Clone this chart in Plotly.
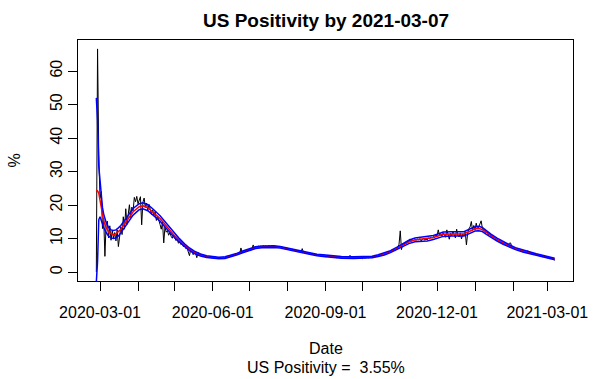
import pandas as pd
import plotly.graph_objects as go

# ---- data ----
start_date = "2020-02-27"
end_date = "2021-03-07"

daily_positivity = [
    0.0, 66.6, 35.0, 22.0, 24.0, 13.0, 16.0, 4.7, 14.5, 15.2,
    10.2, 13.8, 9.5, 12.4, 10.1, 11.8, 9.3, 12.6, 7.6, 10.4,
    13.5, 11.2, 16.5, 12.8, 18.9, 14.2, 17.8, 20.1, 16.3, 19.4,
    18.2, 22.3, 21.0, 22.6, 20.4, 21.7, 22.5, 14.1, 20.8, 22.1,
    19.3, 20.6, 18.4, 20.2, 19.0, 17.2, 18.6, 16.9, 18.1, 15.4,
    16.7, 15.0, 14.2, 12.8, 14.9, 8.7, 13.5, 11.9, 12.4, 11.0,
    11.8, 10.7, 10.1, 11.2, 9.9, 9.4, 9.8, 8.6, 9.1, 8.2,
    8.5, 7.6, 7.9, 7.0, 7.2, 6.1, 4.9, 6.8, 6.5, 5.2,
    6.1, 5.6, 4.3, 5.9, 5.1, 5.3, 4.8, 5.0, 4.6, 4.9,
    4.5, 4.7, 4.3, 4.6, 4.2, 4.4, 4.1, 4.5, 4.2, 4.3,
    4.0, 4.4, 4.1, 4.3, 4.5, 4.2, 4.6, 4.4, 4.7, 4.6,
    4.9, 4.7, 5.1, 5.0, 5.4, 5.2, 5.6, 5.5, 7.2, 5.8,
    6.0, 6.4, 6.2, 6.7, 6.5, 6.9, 6.8, 7.0, 8.1, 7.1,
    7.4, 7.2, 7.8, 7.5, 7.7, 7.4, 7.9, 7.6, 7.8, 7.5,
    7.7, 7.9, 7.5, 7.8, 7.6, 7.4, 7.7, 7.5, 7.6, 7.3,
    7.5, 7.2, 7.4, 7.1, 7.3, 6.9, 7.1, 6.8, 7.0, 6.6,
    6.8, 6.5, 6.6, 6.3, 6.4, 6.1, 6.3, 6.0, 7.0, 5.9,
    5.9, 5.7, 5.8, 5.5, 5.6, 5.3, 5.5, 5.2, 5.4, 5.1,
    5.2, 5.0, 5.1, 4.8, 5.0, 4.7, 4.9, 4.6, 4.8, 4.7,
    4.6, 4.8, 4.5, 4.7, 4.4, 4.6, 4.3, 4.5, 4.4, 4.3,
    4.5, 4.2, 4.4, 4.3, 4.5, 4.2, 4.4, 5.0, 4.3, 4.1,
    4.4, 4.2, 4.3, 4.1, 4.4, 4.2, 4.3, 4.0, 4.4, 4.2,
    4.3, 4.5, 4.2, 4.6, 4.4, 4.5, 4.7, 4.5, 4.9, 4.7,
    5.0, 4.8, 5.2, 5.1, 5.4, 5.3, 5.6, 5.7, 5.6, 6.1,
    6.0, 6.5, 6.3, 6.9, 6.6, 7.1, 7.4, 8.3, 12.3, 6.7,
    8.4, 8.1, 8.9, 8.5, 9.3, 9.0, 9.9, 9.2, 9.6, 9.4,
    9.8, 9.5, 9.9, 9.6, 10.0, 9.3, 9.7, 10.1, 9.5, 9.8,
    9.6, 10.2, 9.9, 10.5, 10.1, 10.6, 10.3, 11.0, 10.8, 12.6,
    10.9, 11.5, 10.7, 11.8, 11.2, 10.4, 12.6, 11.1, 9.8, 11.6,
    10.9, 12.1, 11.3, 10.2, 12.8, 11.0, 10.5, 11.7, 9.9, 11.4,
    10.8, 12.0, 8.1, 11.6, 12.9, 13.5, 15.1, 12.4, 13.9, 12.6,
    14.6, 12.9, 13.4, 14.2, 15.3, 13.1, 12.5, 12.8, 11.7, 12.2,
    11.0, 11.4, 10.6, 10.9, 10.2, 10.4, 9.6, 9.9, 9.2, 9.4,
    8.8, 9.0, 8.5, 8.7, 8.3, 8.4, 8.0, 8.6, 8.7, 7.6,
    7.4, 7.1, 7.2, 6.9, 7.0, 6.6, 6.8, 6.4, 6.5, 6.2,
    6.1, 5.8, 6.4, 5.7, 5.9, 5.5, 5.6, 5.3, 5.4, 5.2,
    5.0, 5.1, 4.8, 4.9, 4.6, 4.8, 4.5, 4.6, 4.3, 4.4,
    4.2, 4.0, 4.1, 3.8, 3.55,
]

# smoothed fit: day offsets from start, fitted value, band half-width
fit_day = [0, 1, 2, 3, 4, 5, 6, 8, 10, 12, 14, 16, 18, 20, 25, 30, 35, 38, 42, 46,
           52, 56, 60, 64, 68, 72, 76, 80, 85, 90, 95, 100, 105, 110, 115, 120, 125,
           130, 135, 140, 145, 150, 155, 160, 165, 170, 175, 180, 185, 190, 195, 200,
           210, 220, 225, 230, 235, 240, 245, 250, 255, 260, 265, 270, 275, 280, 283,
           290, 295, 300, 303, 306, 309, 312, 315, 318, 322, 327, 332, 337, 342, 348,
           354, 359, 364, 369, 374]
fit_value = [24.5, 24.2, 23.6, 21.5, 19.0, 16.8, 15.3, 13.3, 12.0, 11.4, 11.2, 11.4,
             12.0, 12.8, 15.4, 18.0, 19.5, 19.8, 19.2, 18.0, 16.0, 14.3, 12.4, 10.8,
             9.4, 8.0, 6.8, 5.9, 5.1, 4.6, 4.3, 4.2, 4.3, 4.8, 5.4, 6.1, 6.8, 7.3, 7.5,
             7.6, 7.6, 7.4, 7.0, 6.6, 6.2, 5.8, 5.4, 5.1, 4.9, 4.7, 4.5, 4.4, 4.3, 4.3,
             4.5, 4.9, 5.4, 6.1, 7.0, 8.1, 9.0, 9.6, 9.8, 9.9, 10.3, 10.9, 11.3, 11.4,
             11.3, 11.4, 11.9, 12.5, 12.9, 13.0, 12.7, 11.9, 10.8, 9.7, 8.7, 7.8, 7.0,
             6.3, 5.7, 5.2, 4.8, 4.4, 3.9]
fit_halfwidth = [27.5, 21.0, 8.0, 5.0, 3.5, 2.5, 2.0, 1.5, 1.3, 1.2, 1.2, 1.2, 1.2,
                 1.1, 1.0, 1.0, 0.9, 0.9, 0.9, 0.9, 0.8, 0.8, 0.7, 0.6, 0.5, 0.45, 0.4,
                 0.35, 0.3, 0.25, 0.25, 0.25, 0.25, 0.25, 0.25, 0.25, 0.25, 0.25, 0.25,
                 0.25, 0.25, 0.25, 0.25, 0.25, 0.25, 0.25, 0.25, 0.25, 0.25, 0.25, 0.25,
                 0.25, 0.25, 0.25, 0.25, 0.25, 0.3, 0.3, 0.35, 0.4, 0.5, 0.55, 0.6, 0.6,
                 0.6, 0.65, 0.65, 0.65, 0.65, 0.65, 0.65, 0.65, 0.65, 0.65, 0.6, 0.55,
                 0.5, 0.45, 0.4, 0.35, 0.3, 0.3, 0.25, 0.25, 0.25, 0.25, 0.25]

x_tick_dates = ["2020-03-01", "2020-04-01", "2020-05-01", "2020-06-01", "2020-07-01",
                "2020-08-01", "2020-09-01", "2020-10-01", "2020-11-01", "2020-12-01",
                "2021-01-01", "2021-02-01", "2021-03-01"]
x_tick_labels = ["2020-03-01", "", "", "2020-06-01", "", "", "2020-09-01", "", "",
                 "2020-12-01", "", "", "2021-03-01"]
y_tick_vals = [0, 10, 20, 30, 40, 50, 60]

title_text = "US Positivity by 2021-03-07"
x_label = "Date"
y_label = "%"
sub_text = "US Positivity =\u00a0 3.55%"

# ---- build ----
dates = pd.date_range(start_date, end_date, freq="D")
t0 = pd.Timestamp(start_date)
fit_dates = [t0 + pd.Timedelta(days=d) for d in fit_day]
upper = [v + h for v, h in zip(fit_value, fit_halfwidth)]
lower = [v - h for v, h in zip(fit_value, fit_halfwidth)]

span = dates[-1] - dates[0]
x_range = [dates[0] - 0.04 * span, dates[-1] + 0.04 * span]
ymin, ymax = min(daily_positivity), max(daily_positivity)
ypad = 0.04 * (ymax - ymin)
y_range = [ymin - ypad, ymax + ypad]

FONT = "Liberation Sans, Arial, sans-serif"

fig = go.Figure()
fig.add_trace(go.Scatter(x=dates, y=daily_positivity, mode="lines",
                         line=dict(color="black", width=1)))
fig.add_trace(go.Scatter(x=fit_dates, y=fit_value, mode="lines",
                         line=dict(color="red", width=1.5)))
fig.add_trace(go.Scatter(x=fit_dates, y=upper, mode="lines",
                         line=dict(color="blue", width=1.5)))
fig.add_trace(go.Scatter(x=fit_dates, y=lower, mode="lines",
                         line=dict(color="blue", width=1.5)))

fig.update_layout(
    width=614, height=379,
    margin=dict(l=78, r=41, t=40, b=98),
    paper_bgcolor="white", plot_bgcolor="white",
    showlegend=False,
    font=dict(family=FONT, size=16, color="black"),
    xaxis=dict(range=x_range, tickvals=x_tick_dates, ticktext=x_tick_labels,
               ticks="outside", ticklen=9, tickwidth=1, tickcolor="black",
               showline=True, mirror=True, linecolor="black", linewidth=1,
               showgrid=False, zeroline=False, ticklabelstandoff=8,
               tickfont=dict(family=FONT, size=16, color="black")),
    yaxis=dict(range=y_range, tickvals=y_tick_vals, tickangle=-90,
               ticks="outside", ticklen=9, tickwidth=1, tickcolor="black",
               showline=True, mirror=True, linecolor="black", linewidth=1,
               showgrid=False, zeroline=False, ticklabelstandoff=0,
               tickfont=dict(family=FONT, size=16, color="black")),
    annotations=[
        dict(text="<b>" + title_text + "</b>", xref="paper", yref="paper",
             x=0.5, y=1, yshift=20, showarrow=False, yanchor="middle",
             font=dict(family=FONT, size=19, color="black")),
        dict(text=x_label, xref="paper", yref="paper", x=0.5, y=0, yshift=-67,
             showarrow=False, yanchor="middle",
             font=dict(family=FONT, size=16, color="black")),
        dict(text=sub_text, xref="paper", yref="paper", x=0.5, y=0, yshift=-86,
             showarrow=False, yanchor="middle",
             font=dict(family=FONT, size=16, color="black")),
        dict(text=y_label, xref="paper", yref="paper", x=0, xshift=-64, y=0.5,
             showarrow=False, textangle=-90, xanchor="center",
             font=dict(family=FONT, size=16, color="black")),
    ],
)

fig.write_html("out.html", config={"displayModeBar": False},
               post_script="document.body.style.margin='0';document.body.style.padding='0';")
